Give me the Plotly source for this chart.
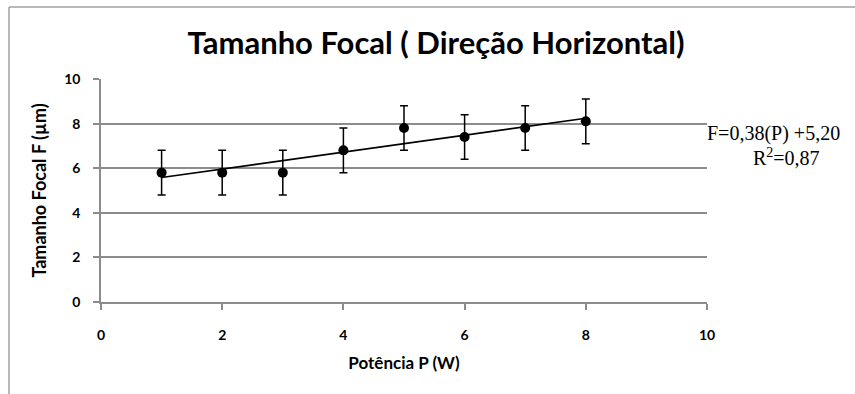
import plotly.graph_objects as go

# Data
potencia = [1, 2, 3, 4, 5, 6, 7, 8]
tamanho_focal = [5.8, 5.8, 5.8, 6.8, 7.8, 7.4, 7.8, 8.1]
erro = [1.0, 1.0, 1.0, 1.0, 1.0, 1.0, 1.0, 1.0]
fit_slope = 0.38
fit_intercept = 5.20
fit_x = [1, 8]
x_ticks = [0, 2, 4, 6, 8, 10]
y_ticks = [0, 2, 4, 6, 8, 10]

fit_y = [fit_slope * x + fit_intercept for x in fit_x]

fig = go.Figure()
fig.add_trace(go.Scatter(
    x=fit_x, y=fit_y, mode="lines",
    line=dict(color="#000000", width=1.6),
    hoverinfo="skip", showlegend=False,
))
fig.add_trace(go.Scatter(
    x=potencia, y=tamanho_focal, mode="markers",
    marker=dict(color="#000000", size=10),
    error_y=dict(type="data", array=erro, visible=True,
                 color="#000000", thickness=1.5, width=4),
    showlegend=False,
))

font_sans = "Lato, 'Open Sans', sans-serif"
font_serif = "'Liberation Serif', 'Times New Roman', serif"

fig.update_layout(
    width=855, height=394,
    margin=dict(l=101, r=148, t=79, b=92),
    paper_bgcolor="white", plot_bgcolor="white",
    title=dict(text="<b>Tamanho Focal ( Direção Horizontal)</b>",
               x=436 / 855, xanchor="center",
               y=1 - 43 / 394, yanchor="middle",
               font=dict(family=font_sans, size=31, color="#000000")),
    xaxis=dict(range=[0, 10], tickvals=x_ticks, showgrid=False,
               showline=True, linecolor="#8c8c8c", linewidth=1.5,
               ticks="outside", ticklen=6, tickcolor="#8c8c8c", tickwidth=1.5,
               ticklabelstandoff=13, zeroline=False,
               tickfont=dict(family=font_sans, size=14, color="#000000", weight="bold"),
               title=dict(text="<b>Potência P (W)</b>", standoff=16,
                          font=dict(family=font_sans, size=17, color="#000000"))),
    yaxis=dict(range=[0, 10], tickvals=y_ticks, showgrid=True,
               gridcolor="#8c8c8c", gridwidth=1.5,
               showline=True, linecolor="#8c8c8c", linewidth=1.5,
               ticks="outside", ticklen=6, tickcolor="#8c8c8c", tickwidth=1.5,
               ticklabelstandoff=10, zeroline=False,
               tickfont=dict(family=font_sans, size=14, color="#000000", weight="bold"),
               title=dict(text="<b>Tamanho Focal F (µm)</b>", standoff=13,
                          font=dict(family=font_sans, size=18, color="#000000"))),
    annotations=[
        dict(text=f"F={fit_slope:.2f}(P) +{fit_intercept:.2f}".replace(".", ","),
             xref="paper", yref="paper", x=(705 - 101) / 606, y=(302 - 133) / 223,
             xanchor="left", yanchor="middle", showarrow=False,
             font=dict(family=font_serif, size=20, color="#000000")),
        dict(text="R<sup>2</sup>=0,87",
             xref="paper", yref="paper", x=(786 - 101) / 606, y=(302 - 157) / 223,
             xanchor="center", yanchor="middle", showarrow=False,
             font=dict(family=font_serif, size=20, color="#000000")),
    ],
    shapes=[
        dict(type="line", xref="paper", yref="paper",
             x0=(9 - 101) / 606, x1=(860 - 101) / 606,
             y0=(302 - 7) / 223, y1=(302 - 7) / 223,
             line=dict(color="#a0a0a0", width=1.5)),
        dict(type="line", xref="paper", yref="paper",
             x0=(9 - 101) / 606, x1=(9 - 101) / 606,
             y0=(302 - 7) / 223, y1=(302 - 400) / 223,
             line=dict(color="#a0a0a0", width=1.5)),
    ],
)

fig.write_html("out.html")
